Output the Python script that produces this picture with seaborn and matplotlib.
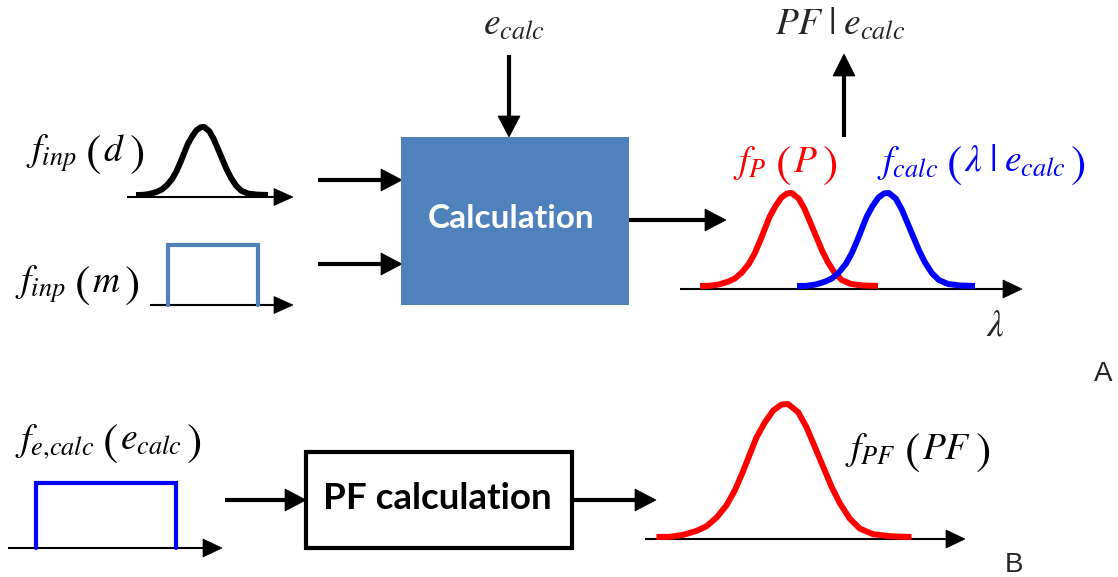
import matplotlib
matplotlib.use("Agg")
import matplotlib.pyplot as plt
from matplotlib.patches import Polygon, Rectangle
import numpy as np
import pandas as pd
import seaborn as sns

# Bell-shaped density profile: offset from the centre (in half-widths) and relative height
bell_offset = [-1.000, -0.896, -0.791, -0.686, -0.608, -0.529, -0.451, -0.386, -0.321,
               -0.268, -0.216, -0.151, -0.085, -0.020, 0.032, 0.045, 0.111, 0.176,
               0.242, 0.307, 0.373, 0.438, 0.516, 0.595, 0.699, 0.830, 1.000]
bell_height = [0.000, 0.002, 0.016, 0.046, 0.081, 0.146, 0.238, 0.350, 0.494,
               0.623, 0.748, 0.860, 0.951, 0.996, 1.000, 0.990, 0.938, 0.826,
               0.677, 0.528, 0.378, 0.254, 0.138, 0.063, 0.021, 0.006, 0.000]

# Uniform density profile: offset from the left edge and relative height
box_offset = [0.0, 0.0, 1.0, 1.0]
box_height = [0.0, 1.0, 1.0, 0.0]

# Formula labels: function name, argument
label_d = (r"$f_{inp}$", r"$d$")
label_m = (r"$f_{inp}$", r"$m$")
label_fp = (r"$f_P$", r"$P$")
label_fcalc = (r"$f_{calc}$", r"$\lambda\;|\;e_{calc}$")
label_fe = (r"$f_{e{,}calc}$", r"$e_{calc}$")
label_fpf = (r"$f_{PF}$", r"$PF$")
label_e = r"$e_{calc}$"
label_pf_e = r"$PF\;|\;e_{calc}$"
label_lambda = r"$\lambda$"
box_calc = "Calculation"
box_pf = "PF calculation"
panel_tags = ["A", "B"]

RED = "#FF0000"
BLUE = "#0000FF"
STEEL = "#4F81BD"

sns.set_theme(style="white")
plt.rcParams["mathtext.fontset"] = "stix"
plt.rcParams["font.family"] = ["DejaVu Sans"]

W, H = 1118, 577
fig = plt.figure(figsize=(W / 100, H / 100), dpi=100)
ax = fig.add_axes([0, 0, 1, 1])
ax.set_xlim(0, W)
ax.set_ylim(H, 0)
ax.set_axis_off()
renderer = fig.canvas.get_renderer()

MATH = 27
PAREN = 33


def bell(cx, half, base, peak, color, lw):
    df = pd.DataFrame({
        "x": cx + half * np.asarray(bell_offset),
        "y": base - peak * np.asarray(bell_height),
    })
    sns.lineplot(data=df, x="x", y="y", ax=ax, color=color, linewidth=lw,
                 sort=False, estimator=None, solid_capstyle="butt",
                 solid_joinstyle="round")


def uniform(x0, width, base, top, color, lw):
    df = pd.DataFrame({
        "x": x0 + width * np.asarray(box_offset),
        "y": base - (base - top) * np.asarray(box_height),
    })
    sns.lineplot(data=df, x="x", y="y", ax=ax, color=color, linewidth=lw,
                 sort=False, estimator=None, solid_joinstyle="miter")


def arrow(x0, y0, x1, y1, lw, hl, hw, color="black"):
    d = np.array([x1 - x0, y1 - y0], dtype=float)
    u = d / np.hypot(*d)
    n = np.array([-u[1], u[0]])
    base = np.array([x1, y1]) - u * hl
    ax.plot([x0, base[0] + u[0]], [y0, base[1] + u[1]], color=color, lw=lw,
            solid_capstyle="butt")
    tri = [(x1, y1), tuple(base + n * hw), tuple(base - n * hw)]
    ax.add_patch(Polygon(tri, closed=True, facecolor=color, edgecolor=color, lw=0.5))


def formula(x, y, label, color="black"):
    """Function name followed by its argument in tall parentheses."""
    name, arg = label
    pieces = [(name, MATH, 0, 8), (r"$($", PAREN, 5, 2),
              (arg, MATH, 0, 4), (r"$)$", PAREN, 5, 0)]
    cx = x
    for s, size, dy, gap in pieces:
        t = ax.text(cx, y + dy, s, fontsize=size, color=color,
                    ha="left", va="baseline")
        cx += t.get_window_extent(renderer).width + gap


# ---------------- Panel A ----------------
arrow(127, 197, 293, 197, 1.5, 19, 8.5)
bell(202, 66, 195, 68, "black", 4.3)
formula(26, 161, label_d)

arrow(150, 305, 293, 305, 1.5, 19, 8.5)
uniform(168, 90, 305, 245, STEEL, 3.0)
formula(15, 292, label_m)

arrow(318, 180, 402, 180, 3.0, 21, 11)
arrow(318, 264, 402, 264, 3.0, 21, 11)
arrow(509, 55, 509, 137, 3.0, 21, 11)
ax.text(514, 35, label_e, fontsize=MATH, ha="center", va="baseline")

ax.add_patch(Rectangle((401, 137), 228, 168, facecolor=STEEL, edgecolor="none"))
ax.text(511, 228, box_calc, fontsize=24, fontweight="bold", color="white",
        family="Lato", ha="center", va="baseline")

arrow(629, 220, 726, 220, 3.0, 21, 11)
arrow(680, 289, 1022, 289, 1.5, 19, 9)
bell(789, 89, 286, 93, RED, 4.3)
bell(886, 89, 286, 93, BLUE, 4.3)
formula(733, 172, label_fp, RED)
formula(877, 172, label_fcalc, BLUE)
ax.text(995, 335, label_lambda, fontsize=MATH, ha="center", va="baseline")

arrow(844, 137, 844, 54, 3.0, 22, 11)
ax.text(775, 35, label_pf_e, fontsize=MATH, ha="left", va="baseline")

ax.text(1103, 381, panel_tags[0], fontsize=20, family="Liberation Sans",
        ha="center", va="baseline")

# ---------------- Panel B ----------------
arrow(8, 548, 222, 548, 1.5, 19, 9)
uniform(36, 140, 548, 483, BLUE, 3.0)
formula(15, 450, label_fe)

arrow(225, 500, 306, 500, 3.0, 21, 11)
ax.add_patch(Rectangle((306, 452), 266, 96, facecolor="white", edgecolor="black",
                       lw=3.0, joinstyle="miter"))
ax.text(437, 509, box_pf, fontsize=26.5, fontweight="bold", color="black",
        family="Lato", ha="center", va="baseline")
arrow(572, 500, 656, 500, 3.0, 21, 11)

arrow(645, 539, 965, 539, 1.5, 19, 9)
bell(784, 127.5, 537, 133, RED, 4.3)
formula(845, 459, label_fpf)

ax.text(1014, 572, panel_tags[1], fontsize=20, family="Liberation Sans",
        ha="center", va="baseline")

fig.savefig("out.png", dpi=100, facecolor="white")
